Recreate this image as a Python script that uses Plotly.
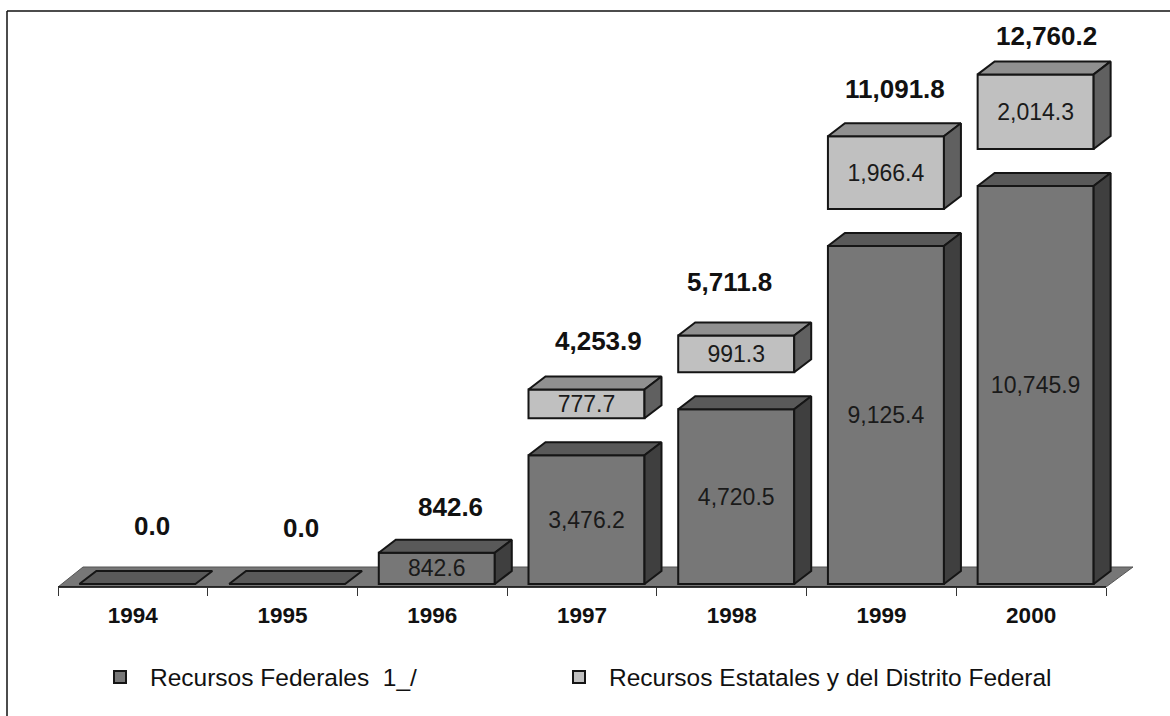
import plotly.graph_objects as go

years = ["1994", "1995", "1996", "1997", "1998", "1999", "2000"]
federal = [0.0, 0.0, 842.6, 3476.2, 4720.5, 9125.4, 10745.9]
state = [None, None, None, 777.7, 991.3, 1966.4, 2014.3]
totals = [0.0, 0.0, 842.6, 4253.9, 5711.8, 11091.8, 12760.2]

# Picture geometry: the plot area runs past the last category so the
# depth faces of the final box are not clipped
W, H = 1170, 716
L, R, T, B = 58, 30, 20, 129
plot_w, plot_h = W - L - R, H - T - B
px_x = 1048 / 7
px_y = 398 / 10745.9
y_min = -3 / px_y
y_max = y_min + plot_h / px_y
x_min = -0.5
x_max = x_min + plot_w / px_x

BAR_W = 116 / px_x
BAR_SHIFT = 4.5 / px_x
DX = 17 / px_x
DY = 13 / px_y
GAP = 37 / px_y
EDGE = "#151515"
FONT = "Liberation Sans, Arial, sans-serif"

# manual label offsets of the totals (pixels)
total_dx = [19, 18.5, 18, 16, -2, 14, 15.6]
total_dy = [45, 43, 33, 35, 40, 34, 25]

xs = list(range(len(years)))
bar_x = [i + BAR_SHIFT for i in xs]
fmt = lambda v: f"{v:,.1f}"


def faces(bases, heights):
    """Top and side parallelograms for boxes standing on bases."""
    tx, ty, sx, sy = [], [], [], []
    for c, b, h in zip(bar_x, bases, heights):
        if h is None:
            continue
        l, r, t = c - BAR_W / 2, c + BAR_W / 2, b + h
        tx += [l, r, r + DX, l + DX, l, None]
        ty += [t, t, t + DY, t + DY, t, None]
        if h > 0:
            sx += [r, r + DX, r + DX, r, r, None]
            sy += [b, b + DY, t + DY, t, b, None]
    return tx, ty, sx, sy


state_base = [f + GAP if s is not None else None for f, s in zip(federal, state)]
fig = go.Figure()
fig.add_bar(
    x=bar_x, y=federal, width=BAR_W, name="Recursos Federales  1_/",
    marker=dict(color="#777777", line=dict(color=EDGE, width=2)),
    text=[fmt(v) if v else "" for v in federal],
    textposition="inside", insidetextanchor="middle", constraintext="none",
    textangle=0,
    textfont=dict(family=FONT, size=23, color="#1a1a1a"),
    hoverinfo="skip", legend="legend",
)
fig.add_bar(
    x=bar_x, y=state, base=state_base, width=BAR_W,
    name="Recursos Estatales y del Distrito Federal",
    marker=dict(color="#c0c0c0", line=dict(color=EDGE, width=2)),
    text=[fmt(v) if v else "" for v in state],
    textposition="inside", insidetextanchor="middle", constraintext="none",
    textangle=0,
    textfont=dict(family=FONT, size=23, color="#1a1a1a"),
    hoverinfo="skip", legend="legend2",
)

ftx, fty, fsx, fsy = faces([0] * len(federal), federal)
stx, sty, ssx, ssy = faces(state_base, state)
for fx, fy, col in [(ftx, fty, "#595959"), (fsx, fsy, "#3f3f3f"),
                    (stx, sty, "#909090"), (ssx, ssy, "#606060")]:
    fig.add_scatter(x=fx, y=fy, mode="lines", fill="toself", fillcolor=col,
                    line=dict(color=EDGE, width=2), showlegend=False,
                    hoverinfo="skip")

stack_top = [f + (s + GAP if s is not None else 0) + DY for f, s in zip(federal, state)]
for i, v, top, dx, dy in zip(xs, totals, stack_top, total_dx, total_dy):
    fig.add_annotation(x=i, y=top, text=f"<b>{fmt(v)}</b>", showarrow=False,
                       xshift=dx, yshift=dy, yanchor="middle",
                       font=dict(family=FONT, size=26, color="#111111"))


def pap_x(p):
    return (p - L) / plot_w


def pap_y(p):
    return (H - B - p) / plot_h


floor = (f"M {pap_x(58)} {pap_y(587)} L {pap_x(83)} {pap_y(567)} "
         f"L {pap_x(1133)} {pap_y(567)} L {pap_x(1106)} {pap_y(587)} Z")
shapes = [
    dict(type="path", xref="paper", yref="paper", path=floor, layer="below",
         fillcolor="#777777", line=dict(color="#555555", width=1)),
    dict(type="line", xref="paper", yref="paper", x0=pap_x(58), x1=pap_x(1106),
         y0=0, y1=0, line=dict(color="#111111", width=1.5)),
    dict(type="line", xref="paper", yref="paper", x0=pap_x(7), x1=pap_x(7),
         y0=pap_y(716), y1=pap_y(11), line=dict(color="#111111", width=1.5)),
    dict(type="line", xref="paper", yref="paper", x0=pap_x(7), x1=pap_x(1170),
         y0=pap_y(11), y1=pap_y(11), line=dict(color="#111111", width=1.5)),
]

legend_common = dict(orientation="h", xanchor="left", yanchor="middle",
                     y=pap_y(677), itemwidth=50, bgcolor="rgba(0,0,0,0)",
                     font=dict(family=FONT, size=24.5, color="#111111"))

fig.update_layout(
    width=W, height=H, autosize=False,
    margin=dict(l=L, r=R, t=T, b=B),
    paper_bgcolor="white", plot_bgcolor="rgba(0,0,0,0)",
    barmode="overlay", shapes=shapes,
    font=dict(family=FONT, color="#111111"),
    xaxis=dict(
        range=[x_min, x_max], tickmode="array", tickvals=xs, ticktext=[f"<b>{y}</b>" for y in years],
        ticks="", showgrid=False, zeroline=False, showline=False,
        ticklabelstandoff=12,
        tickfont=dict(family=FONT, size=22.5, color="#111111"),
        minor=dict(tickmode="array", tickvals=[i - 0.5 for i in range(8)],
                   ticks="outside", ticklen=8, tickcolor="#333333", tickwidth=1,
                   showgrid=False),
    ),
    yaxis=dict(range=[y_min, y_max], visible=False),
    legend=dict(x=pap_x(90), **legend_common),
    legend2=dict(x=pap_x(549), **legend_common),
)
fig.write_html("out.html", config={"displayModeBar": False},
               post_script="document.body.style.margin='0';document.documentElement.style.overflow='hidden';")
